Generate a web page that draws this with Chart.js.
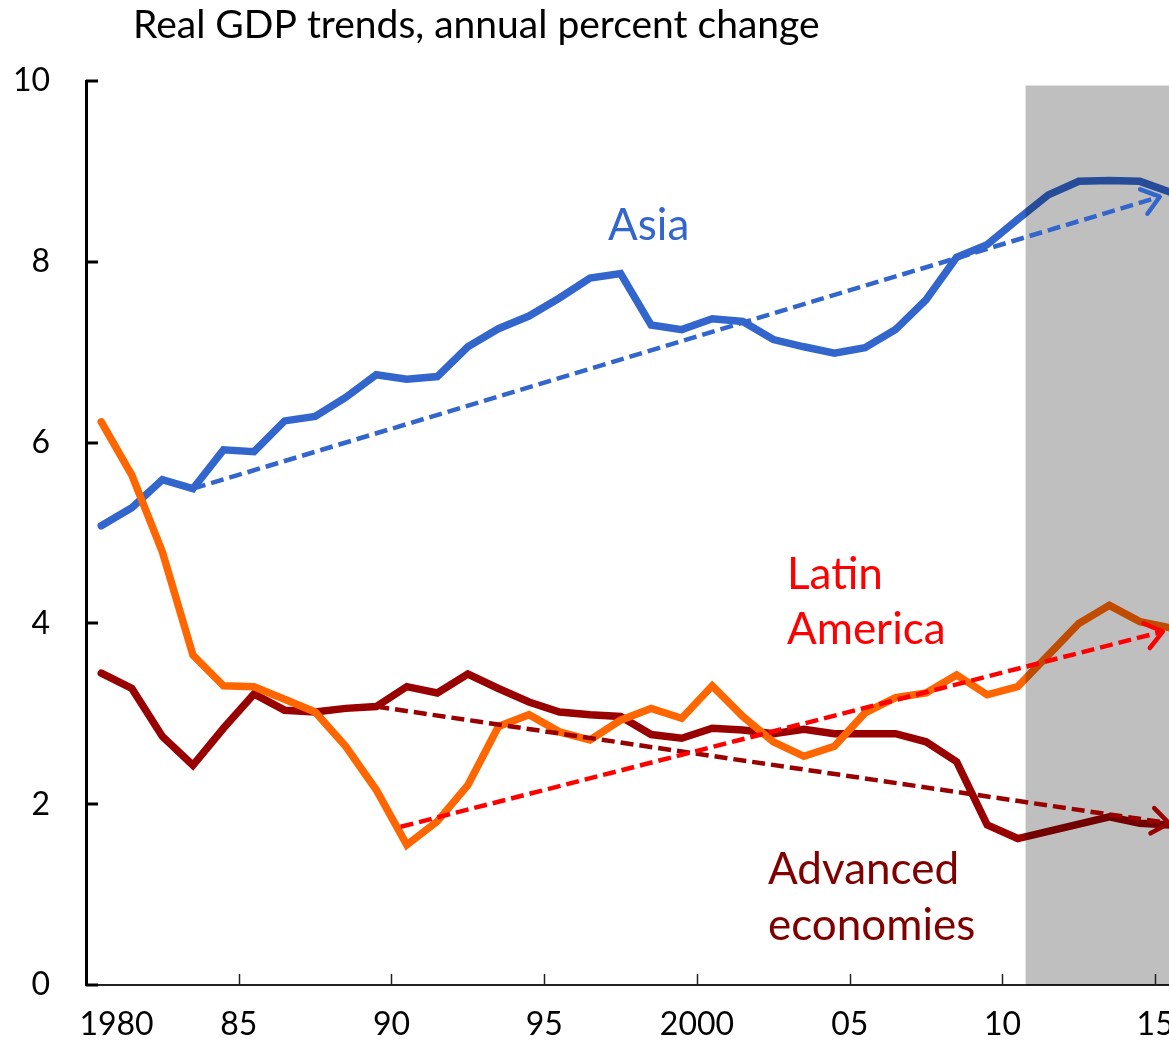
<!DOCTYPE html>
<html>
<head>
<meta charset="utf-8">
<script src="https://cdn.jsdelivr.net/npm/chart.js@4.4.1/dist/chart.umd.min.js"></script>
<style>
html,body{margin:0;padding:0;background:#fff;overflow:hidden}
#wrap{position:absolute;left:0;top:0;width:1210px;height:1045px}
</style>
</head>
<body>
<div id="wrap"><canvas id="chart" width="1210" height="1045"></canvas></div>
<script>

/* DATA */

const years=[1980,1981,1982,1983,1984,1985,1986,1987,1988,1989,1990,1991,1992,1993,1994,1995,1996,1997,1998,1999,2000,2001,2002,2003,2004,2005,2006,2007,2008,2009,2010,2011,2012,2013,2014,2015]

const asia=[5.08,5.28,5.59,5.49,5.92,5.90,6.24,6.29,6.50,6.75,6.70,6.73,7.06,7.26,7.40,7.60,7.82,7.87,7.30,7.25,7.37,7.34,7.14,7.06,6.99,7.05,7.25,7.58,8.05,8.19,8.47,8.74,8.89,8.90,8.89,8.77]

const latinAmerica=[6.23,5.64,4.79,3.65,3.31,3.30,3.16,3.02,2.64,2.16,1.55,1.81,2.21,2.86,2.99,2.80,2.71,2.93,3.06,2.95,3.31,2.97,2.69,2.53,2.64,3.01,3.18,3.23,3.43,3.21,3.30,3.65,4.00,4.20,4.02,3.95]

const advanced=[3.45,3.28,2.75,2.43,2.84,3.22,3.04,3.02,3.06,3.08,3.30,3.23,3.44,3.28,3.13,3.02,2.99,2.97,2.77,2.73,2.84,2.82,2.78,2.83,2.78,2.78,2.78,2.69,2.47,1.77,1.62,1.70,1.78,1.86,1.79,1.77]

// trend arrows: start and end point [year, value]
const asiaTrend=[[1983,5.49],[2014.65,8.72]]
const latamTrend=[[1989.8,1.75],[2014.75,3.91]]
const advancedTrend=[[1989,3.08],[2014.95,1.79]]

// shaded projection period
const shadeFrom=2010.25
const shadeTo=2016
const shadeTop=9.95

const xTickYears=[1980,1985,1990,1995,2000,2005,2010,2015]
const xTickLabels=["1980","85","90","95","2000","05","10","15"]
const yTicks=[0,2,4,6,8,10]

const FONT="Lato"


/* HELPERS */

function series(vals){
return years.map((y,i)=>({x:y,y:vals[i]}))
}

function pts(p){
return p.map(e=>({x:e[0],y:e[1]}))
}

// labels sit on the category boundaries, the first one in its category
const xTickPos=xTickYears.map((y,i)=>i===0?y+0.5:y-0.5)


/* PLUGINS */

const innerTicks={
id:"innerTicks",
afterDraw(chart){
const c=chart.ctx
const x=chart.scales.x
const y=chart.scales.y
const a=chart.chartArea
c.save()
c.strokeStyle="#000"
c.lineWidth=3
yTicks.forEach(v=>{
const py=Math.round(y.getPixelForValue(v))
c.beginPath()
c.moveTo(a.left,py)
c.lineTo(a.left+12,py)
c.stroke()
})
c.lineWidth=1.5
c.strokeStyle="#222"
xTickPos.forEach((v,i)=>{
if(i===0) return
const px=Math.round(x.getPixelForValue(v))+0.5
c.beginPath()
c.moveTo(px,a.bottom)
c.lineTo(px,a.bottom-11)
c.stroke()
})
c.restore()
}
}

const arrowHeads={
id:"arrowHeads",
afterDatasetsDraw(chart){
const c=chart.ctx
chart.data.datasets.forEach((ds,i)=>{
if(!ds.arrow) return
const d=chart.getDatasetMeta(i).data
const p0=d[0],p1=d[d.length-1]
const ang=Math.atan2(p1.y-p0.y,p1.x-p0.x)
const len=21,spread=0.65
c.save()
c.strokeStyle=ds.borderColor
c.lineWidth=4.5
c.lineCap="round"
c.lineJoin="round"
c.beginPath()
c.moveTo(p1.x-len*Math.cos(ang-spread),p1.y-len*Math.sin(ang-spread))
c.lineTo(p1.x,p1.y)
c.lineTo(p1.x-len*Math.cos(ang+spread),p1.y-len*Math.sin(ang+spread))
c.stroke()
c.restore()
})
}
}

const texts={
id:"texts",
afterDraw(chart){
const c=chart.ctx
c.save()
c.textBaseline="alphabetic"
c.textAlign="left"
c.fillStyle="#000"
c.font="39px "+FONT
c.fillText("Real GDP trends, annual percent change",133,38)

c.font="44px "+FONT
c.fillStyle="#3366CC"
c.fillText("Asia",608,240)

c.fillStyle="#FF0000"
c.fillText("Latin",787,589)
c.fillText("America",787,644)

c.fillStyle="#800000"
c.fillText("Advanced",768,884)
c.fillText("economies",768,940)
c.restore()
}
}


/* CHART */

const ctx=document.getElementById("chart").getContext("2d")

Chart.defaults.font.family=FONT

const mainLine={
borderWidth:7.5,
pointRadius:0,
tension:0,
fill:false,
borderCapStyle:"round",
borderJoinStyle:"miter"
}

const trendLine={
borderWidth:4.5,
borderDash:[13,6],
pointRadius:0,
tension:0,
fill:false,
arrow:true
}

new Chart(ctx,{
type:"line",
data:{
datasets:[
{...trendLine,label:"Asia trend",data:pts(asiaTrend),borderColor:"#3366CC",order:0},
{...trendLine,label:"Latin America trend",data:pts(latamTrend),borderColor:"#FF0000",order:0},
{...trendLine,label:"Advanced trend",data:pts(advancedTrend),borderColor:"#990000",order:0},
{label:"projection",data:[{x:shadeFrom,y:shadeTop},{x:shadeTo,y:shadeTop}],borderWidth:0,pointRadius:0,fill:"origin",backgroundColor:"rgba(0,0,0,0.25)",order:1},
{...mainLine,label:"Latin America",data:series(latinAmerica),borderColor:"#FF6600",order:2},
{...mainLine,label:"Asia",data:series(asia),borderColor:"#3366CC",order:3},
{...mainLine,label:"Advanced economies",data:series(advanced),borderColor:"#990000",order:4}
]
},
options:{
responsive:false,
animation:false,
devicePixelRatio:1,
layout:{padding:{top:81,right:9,left:0,bottom:0}},
plugins:{
legend:{display:false},
tooltip:{enabled:false},
title:{display:false}
},
scales:{
x:{
type:"linear",
min:1979.5,
max:2016,
afterFit(s){s.height=60},
afterBuildTicks(s){s.ticks=xTickPos.map(v=>({value:v}))},
grid:{display:false,drawTicks:false},
border:{display:true,color:"#222",width:2},
ticks:{
autoSkip:false,
maxRotation:0,
padding:20,
color:"#000",
font:{size:32},
callback:(v,i)=>xTickLabels[i]
}
},
y:{
min:0,
max:10,
afterFit(s){s.width=86},
afterBuildTicks(s){s.ticks=yTicks.map(v=>({value:v}))},
grid:{display:false,drawTicks:false},
border:{display:true,color:"#000",width:3},
ticks:{
padding:36,
color:"#000",
font:{size:32},
callback:v=>v
}
}
}
},
plugins:[arrowHeads,innerTicks,texts]
})

</script>
</body>
</html>
